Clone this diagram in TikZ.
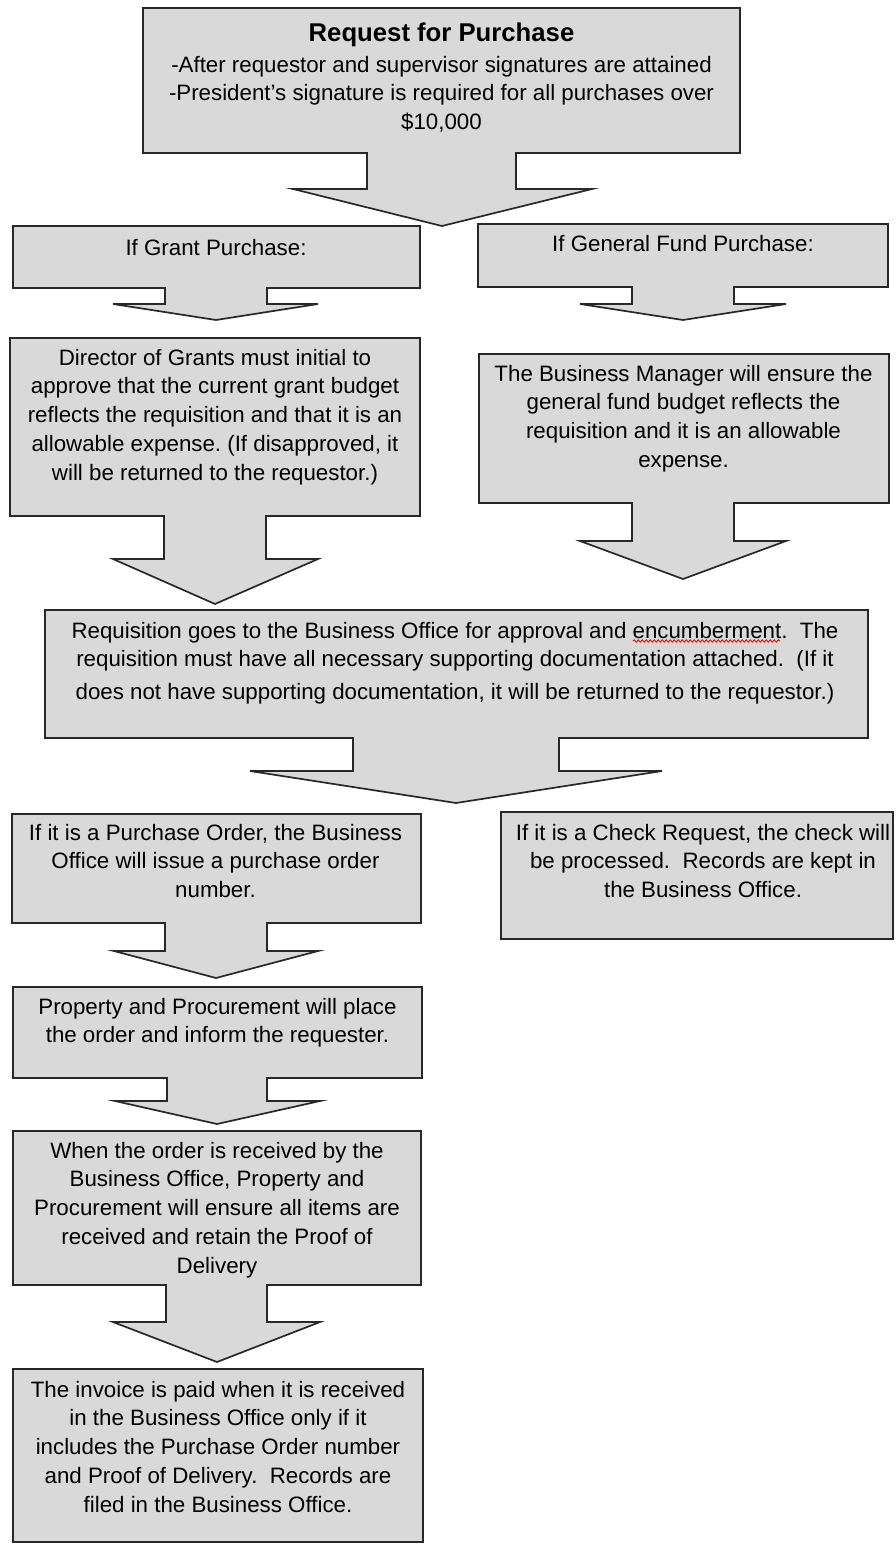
\documentclass[tikz,border=0pt]{standalone}
\usepackage{fontspec}
\setmainfont{Liberation Sans}
\usetikzlibrary{decorations.pathmorphing}
\definecolor{boxgray}{RGB}{217,217,217}
\definecolor{edgegray}{RGB}{40,40,40}
\newcommand\bodyfont{\fontsize{22.3}{28.7}\selectfont}
\newcommand\titlefont{\fontsize{25.7}{30}\selectfont\bfseries}
\newcommand\fst{\rule{0pt}{20pt}}
\begin{document}
\begin{tikzpicture}[x=1pt,y=-1pt,
  shapebox/.style={draw=edgegray, line width=1.7pt, fill=boxgray, line join=miter},
  txt/.style={anchor=north, align=center, inner sep=0pt, font=\bodyfont, text=black},
  ttl/.style={anchor=north, align=center, inner sep=0pt, font=\titlefont, text=black}]
\useasboundingbox (0,0) rectangle (895,1549);
\frenchspacing
% Request for Purchase
\draw[shapebox] (143,8) -- (740,8) -- (740,153) -- (516,153) -- (516,189) -- (592,189) -- (442,226) -- (293,189) -- (367,189) -- (367,153) -- (143,153) -- cycle;
\node[ttl] (reqtitle) at (441.5,21) {\fst Request for Purchase};
\node[txt] (reqbody) at (441.5,52) {\fst -After requestor and supervisor signatures are attained\\-President's signature is required for all purchases over\\\$10,000};
% If Grant Purchase
\draw[shapebox] (13,226) -- (420,226) -- (420,288) -- (267,288) -- (267,304) -- (318,304) -- (216,320) -- (113,304) -- (165,304) -- (165,288) -- (13,288) -- cycle;
\node[txt] (grant) at (216,235) {\fst If Grant Purchase:};
% If General Fund Purchase
\draw[shapebox] (478,224) -- (888,224) -- (888,287) -- (734,287) -- (734,304) -- (786,304) -- (683,320) -- (580,304) -- (632,304) -- (632,287) -- (478,287) -- cycle;
\node[txt] (general) at (683,231) {\fst If General Fund Purchase:};
% Director of Grants
\draw[shapebox] (10,338) -- (420,338) -- (420,516) -- (266,516) -- (266,559) -- (318,559) -- (215,604) -- (113,559) -- (164,559) -- (164,516) -- (10,516) -- cycle;
\node[txt] (director) at (215,345) {\fst Director of Grants must initial to\\approve that the current grant budget\\reflects the requisition and that it is an\\allowable expense. (If disapproved, it\\will be returned to the requestor.)};
% Business Manager
\draw[shapebox] (479,354) -- (889,354) -- (889,503) -- (734,503) -- (734,541) -- (786,541) -- (683,579) -- (580,541) -- (632,541) -- (632,503) -- (479,503) -- cycle;
\node[txt] (manager) at (683.5,361) {\fst The Business Manager will ensure the\\general fund budget reflects the\\requisition and it is an allowable\\expense.};
% Requisition
\draw[shapebox] (45,610) -- (868,610) -- (868,738) -- (559,738) -- (559,771) -- (662,771) -- (456,803) -- (250,771) -- (353,771) -- (353,738) -- (45,738) -- cycle;
\node[txt] (requisition) at (455,618) {\fst Requisition goes to the Business Office for approval and encumberment.~ The\\requisition must have all necessary supporting documentation attached.~ (If it\\[4pt]does not have supporting documentation, it will be returned to the requestor.)};
\draw[red!85!black, line width=0.8pt, decorate, decoration={snake, amplitude=1.2pt, segment length=4pt}] (633,641) -- (780,641);
% Purchase Order
\draw[shapebox] (12,814) -- (421,814) -- (421,923) -- (267,923) -- (267,951) -- (318,951) -- (216,978) -- (114,951) -- (165,951) -- (165,923) -- (12,923) -- cycle;
\node[txt] (po) at (215.5,820) {\fst If it is a Purchase Order, the Business\\Office will issue a purchase order\\number.};
% Check Request
\draw[shapebox] (501,812) rectangle (893,939);
\node[txt] (check) at (703,820) {\fst If it is a Check Request, the check will\\be processed.~ Records are kept in\\the Business Office.};
% Property and Procurement
\draw[shapebox] (13,987) -- (422,987) -- (422,1078) -- (267,1078) -- (267,1101) -- (320,1101) -- (217,1124) -- (115,1101) -- (167,1101) -- (167,1078) -- (13,1078) -- cycle;
\node[txt] (property) at (217.5,994) {\fst Property and Procurement will place\\the order and inform the requester.};
% When the order is received
\draw[shapebox] (13,1131) -- (421,1131) -- (421,1285) -- (267,1285) -- (267,1322) -- (320,1322) -- (217,1362) -- (113,1322) -- (166,1322) -- (166,1285) -- (13,1285) -- cycle;
\node[txt] (received) at (217,1138) {\fst When the order is received by the\\Business Office, Property and\\Procurement will ensure all items are\\received and retain the Proof of\\Delivery};
% Invoice
\draw[shapebox] (13,1369) rectangle (423,1542);
\node[txt] (invoice) at (218,1377) {\fst The invoice is paid when it is received\\in the Business Office only if it\\includes the Purchase Order number\\and Proof of Delivery.~ Records are\\filed in the Business Office.};
\end{tikzpicture}
\end{document}
